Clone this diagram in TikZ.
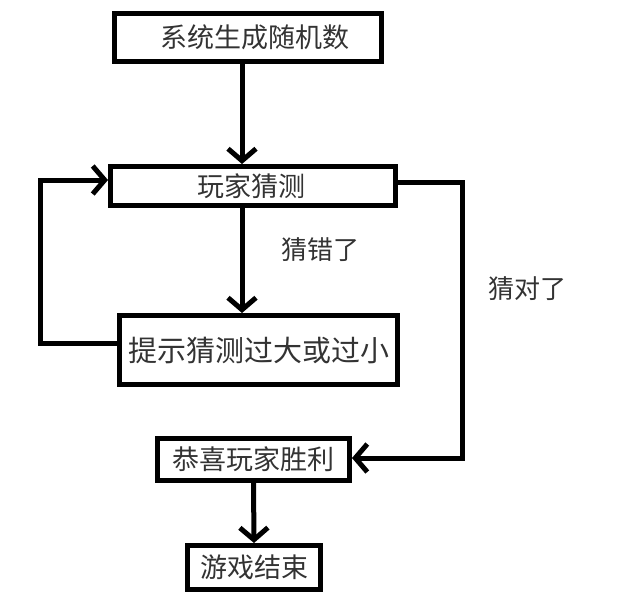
\documentclass[tikz,border=0pt]{standalone}
\usepackage{fontspec}
\setmainfont{Noto Sans CJK SC}
\usetikzlibrary{arrows.meta,calc}
\tikzset{ box/.style = { rectangle % step box
        , draw
        , line width = 5pt
        , inner sep = 0pt
        , text = black!80
        , font = \fontsize{27}{30}\selectfont
        }
        , lbl/.style = { rectangle % edge text
        , inner sep = 0pt
        , text = black!80
        , font = \fontsize{26}{30}\selectfont
        }
        }

\begin{document}
\begin{tikzpicture}[x=1pt, y=1pt,
        edge_style/.style={draw=black, line width=5pt, -{Straight Barb[length=12pt,width=28pt]}}]
        \useasboundingbox (0,0) rectangle (620,-611);

        \node [box, minimum width=267pt, minimum height=48pt](gen) at (248,-37.5) {\hspace*{14pt}系统生成随机数};
        \node [box, minimum width=285pt, minimum height=39pt](guess) at (253,-186) {\hspace*{-4pt}玩家猜测};
        \node [box, minimum width=278pt, minimum height=69pt](hint) at (258.5,-350) {\fontsize{29}{32}\selectfont 提示猜测过大或过小};
        \node [box, minimum width=192pt, minimum height=42pt](win) at (253.5,-459.5) {恭喜玩家胜利};
        \node [box, minimum width=133pt, minimum height=44pt](over) at (254,-567.5) {游戏结束};

        \node [lbl](wrong) at (320,-250) {猜错了};
        \node [lbl](right) at (527,-289) {猜对了};

        \coordinate (lp) at (40,-180);
        \coordinate (rp) at (462,-458);

        \draw [edge_style] ([xshift=-6pt]gen.south) -- ([xshift=-6pt]gen.south |- guess.north);
        \draw [edge_style] ([xshift=-11pt]guess.south) -- ([xshift=-11pt]guess.south |- hint.north);
        \draw [edge_style] ([yshift=7pt]hint.west) -| (lp) -- ([yshift=6pt]guess.west);
        \draw [edge_style] ([yshift=4pt]guess.east) -| (rp) -- ([yshift=1.5pt]win.east);
        \draw [edge_style] (win.south) -- (over.north);

\end{tikzpicture}
\end{document}
